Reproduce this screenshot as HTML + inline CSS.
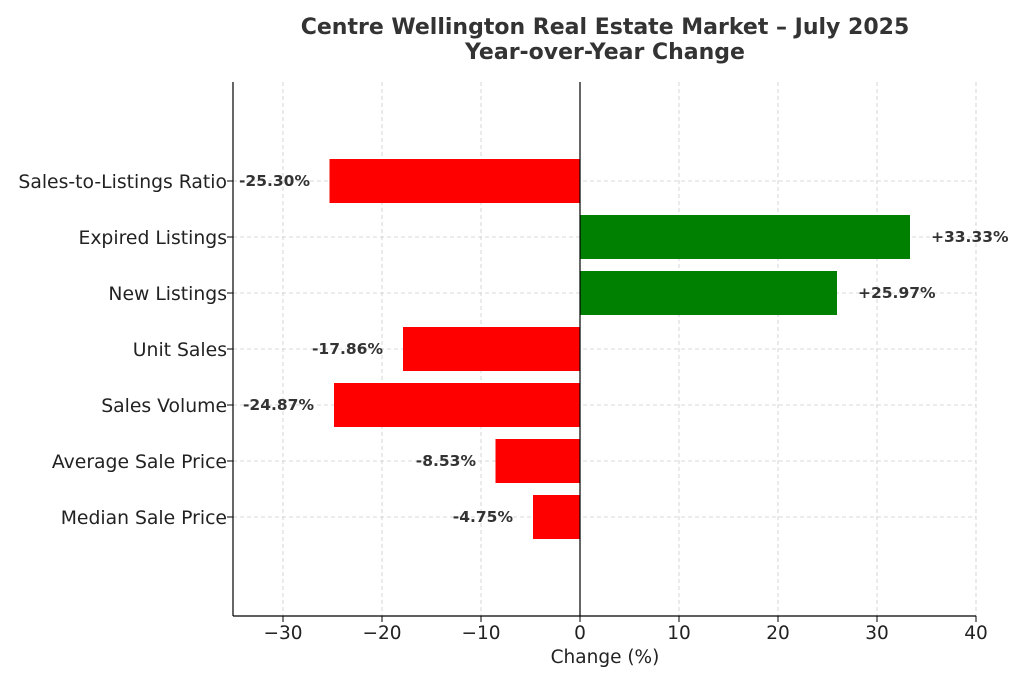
<!DOCTYPE html>
<html><head><meta charset="utf-8"><style>
body{margin:0;background:#fff}
svg{display:block;font-family:"DejaVu Sans","Liberation Sans",sans-serif}
</style></head><body>
<svg width="1024" height="683" viewBox="0 0 1024 683" xmlns="http://www.w3.org/2000/svg">
<rect width="1024" height="683" fill="#fff"/>
<text x="605" y="34" text-anchor="middle" font-size="22" font-weight="bold" fill="#333">Centre Wellington Real Estate Market – July 2025</text>
<text x="605" y="59" text-anchor="middle" font-size="22" font-weight="bold" fill="#333">Year-over-Year Change</text>
<g stroke="#ccc" stroke-width="0.8" stroke-dasharray="4,3">
<line x1="283" y1="82" x2="283" y2="616"/><line x1="382" y1="82" x2="382" y2="616"/><line x1="481" y1="82" x2="481" y2="616"/><line x1="679" y1="82" x2="679" y2="616"/><line x1="778" y1="82" x2="778" y2="616"/><line x1="877" y1="82" x2="877" y2="616"/><line x1="976" y1="82" x2="976" y2="616"/>
<line x1="233" y1="181" x2="976" y2="181"/><line x1="233" y1="237" x2="976" y2="237"/><line x1="233" y1="293" x2="976" y2="293"/><line x1="233" y1="349" x2="976" y2="349"/><line x1="233" y1="405" x2="976" y2="405"/><line x1="233" y1="461" x2="976" y2="461"/><line x1="233" y1="517" x2="976" y2="517"/>
</g>
<g>
<rect x="329.5" y="159" width="250.5" height="44" fill="#ff0000"/>
<rect x="580" y="215" width="330" height="44" fill="#008000"/>
<rect x="580" y="271" width="257" height="44" fill="#008000"/>
<rect x="403" y="327" width="177" height="44" fill="#ff0000"/>
<rect x="334" y="383" width="246" height="44" fill="#ff0000"/>
<rect x="495.5" y="439" width="84.5" height="44" fill="#ff0000"/>
<rect x="533" y="495" width="47" height="44" fill="#ff0000"/>
</g>
<line x1="580" y1="82" x2="580" y2="616" stroke="#000" stroke-width="1.2"/>
<line x1="233" y1="82" x2="233" y2="616" stroke="#000" stroke-width="1.2"/>
<line x1="233" y1="616" x2="976" y2="616" stroke="#000" stroke-width="1.2"/>
<g font-size="15.5" font-weight="bold" fill="#333">
<text x="310" y="186" text-anchor="end">-25.30%</text>
<text x="931" y="242">+33.33%</text>
<text x="858" y="298">+25.97%</text>
<text x="383" y="354" text-anchor="end">-17.86%</text>
<text x="314" y="410" text-anchor="end">-24.87%</text>
<text x="476" y="466" text-anchor="end">-8.53%</text>
<text x="513" y="522" text-anchor="end">-4.75%</text>
</g>
<g font-size="18.8" fill="#222" text-anchor="end">
<text x="227" y="188">Sales-to-Listings Ratio</text>
<text x="227" y="244">Expired Listings</text>
<text x="227" y="300">New Listings</text>
<text x="227" y="356">Unit Sales</text>
<text x="227" y="412">Sales Volume</text>
<text x="227" y="468">Average Sale Price</text>
<text x="227" y="524">Median Sale Price</text>
</g>
<g stroke="#000"><line x1="227" y1="181" x2="233" y2="181"/><line x1="227" y1="237" x2="233" y2="237"/><line x1="227" y1="293" x2="233" y2="293"/><line x1="227" y1="349" x2="233" y2="349"/><line x1="227" y1="405" x2="233" y2="405"/><line x1="227" y1="461" x2="233" y2="461"/><line x1="227" y1="517" x2="233" y2="517"/>
<line x1="283" y1="616" x2="283" y2="622"/><line x1="382" y1="616" x2="382" y2="622"/><line x1="481" y1="616" x2="481" y2="622"/><line x1="580" y1="616" x2="580" y2="622"/><line x1="679" y1="616" x2="679" y2="622"/><line x1="778" y1="616" x2="778" y2="622"/><line x1="877" y1="616" x2="877" y2="622"/><line x1="976" y1="616" x2="976" y2="622"/></g>
<g font-size="18.5" fill="#222" text-anchor="middle">
<text x="283" y="639">−30</text><text x="382" y="639">−20</text><text x="481" y="639">−10</text><text x="580" y="639">0</text><text x="679" y="639">10</text><text x="778" y="639">20</text><text x="877" y="639">30</text><text x="976" y="639">40</text>
<text x="605" y="663">Change (%)</text>
</g>
</svg>
</body></html>
